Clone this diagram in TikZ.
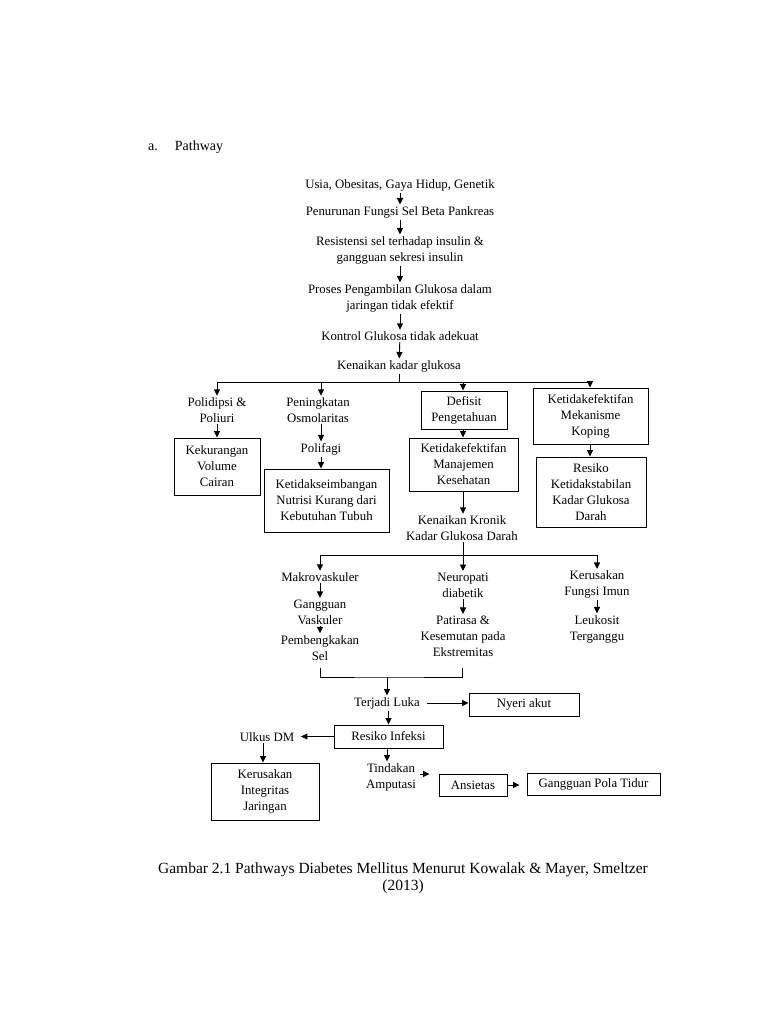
\documentclass[tikz,border=0pt]{standalone}
\usepackage{fontspec}
\setmainfont{Liberation Serif}
\usetikzlibrary{arrows.meta}
\newcommand\myfs{\fontsize{12.8}{16}\selectfont}
\newcommand\mycap{\fontsize{15.5}{17}\selectfont}
\newcommand\mytitle{\fontsize{14}{17}\selectfont}
\tikzset{
  txt/.style={align=center, inner sep=1.5pt, font=\myfs},
  bx/.style={draw, align=center, inner sep=0pt, font=\myfs, line width=0.9pt},
  arr/.style={-{Triangle[length=6.5pt,width=6pt]}, line width=0.95pt},
  ln/.style={line width=0.95pt}
}
\begin{document}
\begin{tikzpicture}[x=1pt,y=-1pt]
\useasboundingbox[fill=white] (0,0) rectangle (768,1024);

% title
\node[anchor=base west, inner sep=0, font=\mytitle] (title) at (148,151) {a.\hspace{17pt}Pathway};

% top chain
\node[txt] (n1) at (400,185) {Usia, Obesitas, Gaya Hidup, Genetik};
\node[txt] (n2) at (400,212) {Penurunan Fungsi Sel Beta Pankreas};
\node[txt] (n3) at (400,250) {Resistensi sel terhadap insulin \&\\gangguan sekresi insulin};
\node[txt] (n4) at (400,298) {Proses Pengambilan Glukosa dalam\\jaringan tidak efektif};
\node[txt] (n5) at (400,336) {Kontrol Glukosa tidak adekuat};
\node[txt] (n6) at (399,366) {Kenaikan kadar glukosa};
\draw[arr] (n1) -- (n2);
\draw[arr] (n2) -- (n3);
\draw[arr] (n3) -- (n4);
\draw[arr] (n4) -- (n5);
\draw[arr] (n5) -- (n6);

% first bar
\coordinate (barA) at (217,382);
\coordinate (barB) at (321,382);
\coordinate (barC) at (463,382);
\coordinate (barD) at (590,382);
\draw[ln] (n6.south) -- (n6.south |- barA);
\draw[ln] (barA) -- (barD);

% row 1
\node[txt] (poli) at (217,410) {Polidipsi \&\\Poliuri};
\node[bx, minimum width=86pt, minimum height=57pt] (vol) at (217,466.5) {Kekurangan\\Volume\\Cairan};
\node[txt] (osm) at (318,410) {Peningkatan\\Osmolaritas};
\node[txt] (fagi) at (321,449) {Polifagi};
\node[bx, minimum width=125pt, minimum height=63pt] (nutr) at (326.5,500.5) {Ketidakseimbangan\\Nutrisi Kurang dari\\Kebutuhan Tubuh};
\node[bx, minimum width=86pt, minimum height=38pt] (def) at (464,410) {Defisit\\Pengetahuan};
\node[bx, minimum width=109pt, minimum height=53pt] (man) at (463.5,464.5) {Ketidakefektifan\\Manajemen\\Kesehatan};
\node[txt] (kron) at (462,528) {Kenaikan Kronik\\Kadar Glukosa Darah};
\node[bx, minimum width=115pt, minimum height=56pt] (kop) at (590.5,416) {Ketidakefektifan\\Mekanisme\\Koping};
\node[bx, minimum width=110pt, minimum height=70pt] (stab) at (591,492) {Resiko\\Ketidakstabilan\\Kadar Glukosa\\Darah};

\draw[arr] (barA) -- (barA |- poli.north);
\draw[arr] (barB) -- (barB |- osm.north);
\draw[arr] (barC) -- (barC |- def.north);
\draw[arr] (barD) -- (barD |- kop.north);
\draw[arr] (poli.south) -- (poli.south |- vol.north);
\draw[arr] (osm.south -| fagi) -- (fagi.north);
\draw[arr] (fagi.south) -- (fagi.south |- nutr.north);
\draw[arr] (def.south -| barC) -- (barC |- man.north);
\draw[arr] (man.south -| barC) -- (barC |- kron.north);
\draw[arr] (kop.south -| barD) -- (barD |- stab.north);

% second bar
\coordinate (bar2A) at (320,555);
\coordinate (bar2B) at (463,555);
\coordinate (bar2C) at (597,555);
\draw[ln] (kron.south -| bar2B) -- (bar2B);
\draw[ln] (bar2A) -- (bar2C);

\node[txt] (makro) at (320,577) {Makrovaskuler};
\node[txt] (gvask) at (320,612) {Gangguan\\Vaskuler};
\node[txt] (pemb) at (320,648.5) {Pembengkakan\\Sel};
\node[txt] (neuro) at (463,585) {Neuropati\\diabetik};
\node[txt] (pati) at (463,636) {Patirasa \&\\Kesemutan pada\\Ekstremitas};
\node[txt] (imun) at (597,584.5) {Kerusakan\\Fungsi Imun};
\node[txt] (leuk) at (597,629) {Leukosit\\Terganggu};

\draw[arr] (bar2A) -- (bar2A |- makro.north);
\draw[arr] (bar2B) -- (bar2B |- neuro.north);
\draw[arr] (bar2C) -- (bar2C |- imun.north);
\draw[arr] (makro) -- (gvask);
\draw[arr] (gvask.south) -- ([yshift=1pt]pemb.north);
\draw[arr] (neuro) -- (pati);
\draw[arr] (imun) -- (leuk);

% bracket
\coordinate (bL) at (320,668);
\coordinate (bM) at (387,677);
\coordinate (bR) at (462,668);
\draw[ln] (bL) |- (bM) -| (bR);

% bottom part
\node[txt] (luka) at (387,703) {Terjadi Luka};
\node[bx, minimum width=110pt, minimum height=23pt] (nyeri) at (524,704.5) {Nyeri akut};
\node[bx, minimum width=109pt, minimum height=23pt] (inf) at (388.5,736.5) {Resiko Infeksi};
\node[txt] (ulkus) at (267,737) {Ulkus DM};
\node[bx, minimum width=108pt, minimum height=57pt] (integ) at (265,791.5) {Kerusakan\\Integritas\\Jaringan};
\node[txt] (tind) at (391,777) {Tindakan\\Amputasi};
\node[bx, minimum width=68pt, minimum height=22pt] (ansi) at (473,785) {Ansietas};
\node[bx, minimum width=133pt, minimum height=22pt] (tidur) at (593.5,784) {Gangguan Pola Tidur};

\draw[arr] (bM) -- (bM |- luka.north);
\draw[arr, shorten <=6pt] (luka.east) -- (luka.east -| nyeri.west);
\draw[arr] (luka.south -| inf) -- (inf.north);
\draw[arr, shorten >=5pt] (inf.west) -- (inf.west -| ulkus.east);
\draw[arr] ([xshift=-4pt]ulkus.south) -- ([xshift=-4pt]ulkus.south |- integ.north);
\draw[arr] (inf.south -| bM) -- (bM |- tind.north);
\draw[arr, shorten <=2pt, shorten >=9pt] ([yshift=3pt]tind.east) -- ([yshift=3pt]tind.east -| ansi.west);
\draw[arr, shorten >=7pt] (ansi.east) -- (ansi.east -| tidur.west);

% caption
\node[align=center, inner sep=0, font=\mycap] (cap) at (403,878) {Gambar 2.1 Pathways Diabetes Mellitus Menurut Kowalak \& Mayer, Smeltzer\\(2013)};
\end{tikzpicture}
\end{document}
